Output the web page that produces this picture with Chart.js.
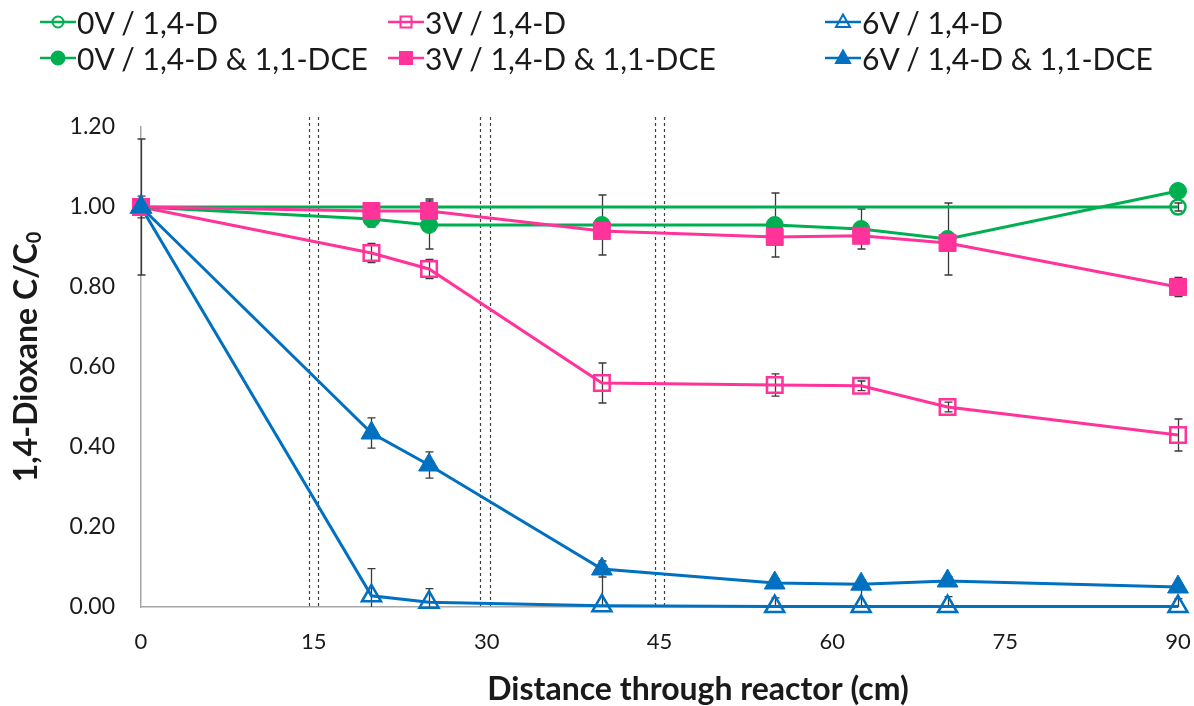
<!DOCTYPE html>
<html lang="en">
<head>
<meta charset="UTF-8">
<title>1,4-Dioxane through reactor</title>
<script src="https://cdn.jsdelivr.net/npm/chart.js"></script>
<style>
  body { margin: 0; background: #fff; font-family: Lato, "Open Sans", sans-serif; }
  .wrap { position: relative; width: 1194px; height: 706px; overflow: hidden; }
  .legend-item {
    position: absolute;
    display: flex;
    align-items: center;
    font-size: 30px;
    color: #1a1a1a;
    white-space: nowrap;
    transform: translateY(-50%);
  }
  .legend-item svg { flex-shrink: 0; margin-right: 1px; }
</style>
</head>
<body>
<div class="wrap">
  <canvas id="chart"></canvas>
  <div id="legend"></div>
</div>
<script>
// sampling ports along the reactor (cm)
const distance = [0, 20, 25, 40, 55, 62.5, 70, 90];
const controlDistance = [0, 90];

// electrode edges (cm), drawn as dashed pairs
const electrodeEdges = [14.6, 15.4, 29.4, 30.3, 44.6, 45.4];

// C/C0 means and standard deviations
const v0Dioxane = [1.00, 1.00];
const v0DioxaneErr = [0.17, 0.01];
const v3Dioxane = [1.00, 0.885, 0.845, 0.56, 0.555, 0.553, 0.50, 0.43];
const v3DioxaneErr = [0, 0.024, 0.024, 0.05, 0.028, 0.012, 0.012, 0.04];
const v6Dioxane = [1.00, 0.028, 0.012, 0.003, 0.001, 0.001, 0.001, 0.001];
const v6DioxaneErr = [0, 0.068, 0.034, 0.085, 0.022, 0.05, 0.025, 0.02];
const v0Mixture = [1.00, 0.97, 0.955, 0.955, 0.955, 0.945, 0.92, 1.04];
const v0MixtureErr = [0.027, 0.02, 0.06, 0.075, 0.08, 0.05, 0.09, 0.01];
const v3Mixture = [1.00, 0.99, 0.99, 0.94, 0.925, 0.928, 0.91, 0.80];
const v3MixtureErr = [0, 0.005, 0.03, 0, 0, 0, 0, 0.024];
const v6Mixture = [1.00, 0.435, 0.355, 0.095, 0.06, 0.057, 0.065, 0.05];
const v6MixtureErr = [0, 0.038, 0.033, 0.02, 0.01, 0.01, 0.01, 0.01];

const xTicks = [0, 15, 30, 45, 60, 75, 90];
const yTicks = [0, 0.2, 0.4, 0.6, 0.8, 1.0, 1.2];

const GREEN = '#00b050';
const PINK = '#ff3399';
const BLUE = '#0070c0';
const TEXT = '#1a1a1a';

function pts(xs, ys) {
  return xs.map((x, i) => ({ x: x, y: ys[i] }));
}

function series(label, xs, ys, err, color, style, filled, radius) {
  return {
    label: label,
    data: pts(xs, ys),
    err: err,
    filled: filled,
    borderColor: color,
    backgroundColor: color,
    borderWidth: 3,
    pointStyle: style,
    pointRadius: radius,
    pointHoverRadius: radius,
    pointBorderWidth: filled ? 1 : 2.5,
    pointBackgroundColor: filled ? color : 'rgba(0,0,0,0)',
    pointBorderColor: color,
    tension: 0,
    clip: false
  };
}

const datasets = [
  series('0V / 1,4-D', controlDistance, v0Dioxane, v0DioxaneErr, GREEN, 'circle', false, 7.5),
  series('3V / 1,4-D', distance, v3Dioxane, v3DioxaneErr, PINK, 'rect', false, 11),
  series('6V / 1,4-D', distance, v6Dioxane, v6DioxaneErr, BLUE, 'triangle', false, 11),
  series('0V / 1,4-D & 1,1-DCE', distance, v0Mixture, v0MixtureErr, GREEN, 'circle', true, 8.5),
  series('3V / 1,4-D & 1,1-DCE', distance, v3Mixture, v3MixtureErr, PINK, 'rect', true, 12),
  series('6V / 1,4-D & 1,1-DCE', distance, v6Mixture, v6MixtureErr, BLUE, 'triangle', true, 12)
];
// later series sit on top
datasets.forEach((ds, i) => { ds.order = datasets.length - i; });

// dashed electrode boundaries and error bars, under the series
const underlay = {
  id: 'underlay',
  beforeDatasetsDraw(chart) {
    const { ctx, chartArea, scales } = chart;
    const x = scales.x, y = scales.y;

    ctx.save();
    ctx.strokeStyle = '#404040';
    ctx.lineWidth = 1.2;
    ctx.setLineDash([3, 3]);
    electrodeEdges.forEach(e => {
      const px = Math.round(x.getPixelForValue(e)) + 0.5;
      ctx.beginPath();
      ctx.moveTo(px, y.getPixelForValue(1.225));
      ctx.lineTo(px, chartArea.bottom);
      ctx.stroke();
    });
    ctx.restore();

    ctx.save();
    ctx.beginPath();
    ctx.rect(chartArea.left - 10, chartArea.top - 10, chartArea.width + 20, chartArea.height + 10);
    ctx.clip();
    ctx.strokeStyle = '#3a3a3a';
    ctx.lineWidth = 1.3;
    chart.data.datasets.forEach(ds => {
      ds.data.forEach((p, j) => {
        const e = ds.err[j];
        if (!e) return;
        const px = Math.round(x.getPixelForValue(p.x)) + 0.5;
        const top = y.getPixelForValue(p.y + e);
        const bot = y.getPixelForValue(p.y - e);
        ctx.beginPath();
        ctx.moveTo(px, top);
        ctx.lineTo(px, bot);
        ctx.moveTo(px - 4, top);
        ctx.lineTo(px + 4, top);
        ctx.moveTo(px - 4, bot);
        ctx.lineTo(px + 4, bot);
        ctx.stroke();
      });
    });
    ctx.restore();
  }
};

// axis titles (the y title has a subscript)
const axisTitles = {
  id: 'axisTitles',
  afterDraw(chart) {
    const { ctx } = chart;
    ctx.save();
    ctx.fillStyle = TEXT;
    ctx.textBaseline = 'middle';
    ctx.textAlign = 'center';
    ctx.font = 'bold 32px Lato';
    ctx.fillText('Distance through reactor (cm)', 698, 690);

    ctx.translate(27, 357);
    ctx.rotate(-Math.PI / 2);
    ctx.textAlign = 'left';
    const main = '1,4-Dioxane C/C';
    ctx.font = 'bold 32px Lato';
    const w1 = ctx.measureText(main).width;
    ctx.font = 'bold 20px Lato';
    const w2 = ctx.measureText('0').width;
    const start = -(w1 + w2) / 2;
    ctx.font = 'bold 32px Lato';
    ctx.fillText(main, start, 0);
    ctx.font = 'bold 20px Lato';
    ctx.fillText('0', start + w1, 8);
    ctx.restore();
  }
};

const chart = new Chart(document.getElementById('chart'), {
  type: 'line',
  data: { datasets: datasets },
  options: {
    responsive: true,
    maintainAspectRatio: false,
    animation: false,
    events: [],
    layout: { autoPadding: false, padding: { top: 127, right: 16, left: 0, bottom: 0 } },
    plugins: {
      legend: { display: false },
      tooltip: { enabled: false }
    },
    scales: {
      x: {
        type: 'linear',
        min: 0,
        max: 90,
        afterFit(scale) {
          scale.height = 99;
          scale.paddingLeft = 0;
          scale.paddingRight = 0;
        },
        afterBuildTicks(scale) {
          scale.ticks = xTicks.map(v => ({ value: v }));
        },
        ticks: {
          padding: 22,
          color: TEXT,
          font: { family: 'Lato', size: 22 }
        },
        grid: { display: false, drawTicks: false },
        border: { display: true, color: '#a6a6a6', width: 1.5 }
      },
      y: {
        min: 0,
        max: 1.2,
        afterFit(scale) {
          scale.width = 141;
          scale.paddingTop = 0;
          scale.paddingBottom = 0;
        },
        afterBuildTicks(scale) {
          scale.ticks = yTicks.map(v => ({ value: v }));
        },
        ticks: {
          padding: 26,
          color: TEXT,
          font: { family: 'Lato', size: 23 },
          callback: v => v.toFixed(2)
        },
        grid: { display: false, drawTicks: false },
        border: { display: true, color: '#a6a6a6', width: 1.5 }
      }
    }
  },
  plugins: [underlay, axisTitles]
});

// legend: three columns, two rows, built from the datasets
const legendCols = [40, 388, 825];
const legendRows = [22, 58];

function markerSvg(ds) {
  const c = ds.borderColor;
  const fill = ds.filled ? c : 'none';
  let shape;
  if (ds.pointStyle === 'circle') {
    shape = `<circle cx="18" cy="12" r="${ds.filled ? 6.5 : 5.5}" fill="${fill}" stroke="${c}" stroke-width="2"/>`;
  } else if (ds.pointStyle === 'rect') {
    const s = ds.filled ? 12 : 11;
    shape = `<rect x="${18 - s / 2}" y="${12 - s / 2}" width="${s}" height="${s}" fill="${fill}" stroke="${c}" stroke-width="2"/>`;
  } else {
    shape = `<polygon points="18,4.5 25,17 11,17" fill="${fill}" stroke="${c}" stroke-width="2"/>`;
  }
  return `<svg width="36" height="24" viewBox="0 0 36 24">
    <line x1="0" y1="12" x2="36" y2="12" stroke="${c}" stroke-width="2.5"/>${shape}</svg>`;
}

const legend = document.getElementById('legend');
datasets.forEach((ds, i) => {
  const item = document.createElement('div');
  item.className = 'legend-item';
  item.style.left = legendCols[i % 3] + 'px';
  item.style.top = legendRows[Math.floor(i / 3)] + 'px';
  item.innerHTML = markerSvg(ds) + '<span>' + ds.label + '</span>';
  legend.appendChild(item);
});
</script>
</body>
</html>
